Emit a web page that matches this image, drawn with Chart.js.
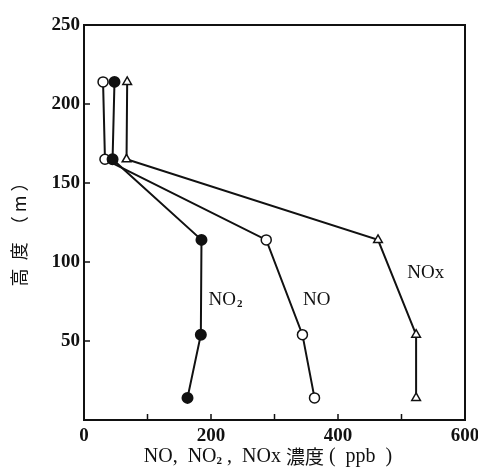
<!DOCTYPE html>
<html>
<head>
<meta charset="utf-8">
<script src="https://cdn.jsdelivr.net/npm/chart.js@4.4.1/dist/chart.umd.min.js"></script>
<style>
  html, body { margin: 0; padding: 0; background: #fff; }
  #wrap { width: 478px; height: 468px; }
</style>
</head>
<body>
<div id="wrap"><canvas id="grafico" width="478" height="468"></canvas></div>
<script>
// alturas (m) e concentrações (ppb)
const alturas = [214, 165, 114, 54, 14];
const no2 = [48, 45, 185, 184, 163];
const no = [30, 33, 287, 344, 363];
const nox = [68, 67, 463, 523, 523];

const xTicks = [0, 100, 200, 300, 400, 500, 600];
const yTicks = [0, 50, 100, 150, 200, 250];

const serie = vals => vals.map((v, i) => ({ x: v, y: alturas[i] }));

// rótulos das curvas
const rotulos = [
    { texto: "NO", sub: "2", x: 196, y: 76 },
    { texto: "NO", sub: "", x: 345, y: 76 },
    { texto: "NOx", sub: "", x: 509, y: 93 }
];

const fonteSerif = "'Liberation Serif', 'DejaVu Serif', serif";
const fonteCJK = "'Noto Sans CJK JP', 'Noto Sans', sans-serif";

// moldura, marcas internas e textos
const moldura = {
    id: "moldura",
    afterDraw(chart) {
        const { ctx, chartArea: a, scales } = chart;
        ctx.save();
        ctx.strokeStyle = "#111";
        ctx.lineWidth = 2;
        ctx.strokeRect(a.left, a.top, a.right - a.left, a.bottom - a.top);

        ctx.lineWidth = 1.5;
        ctx.beginPath();
        xTicks.slice(1, -1).forEach(v => {
            const px = scales.x.getPixelForValue(v);
            ctx.moveTo(px, a.bottom);
            ctx.lineTo(px, a.bottom - 6);
        });
        yTicks.slice(1, -1).forEach(v => {
            const py = scales.y.getPixelForValue(v);
            ctx.moveTo(a.left, py);
            ctx.lineTo(a.left + 6, py);
        });
        ctx.stroke();

        // rótulos das séries
        ctx.fillStyle = "#111";
        ctx.textBaseline = "middle";
        ctx.textAlign = "left";
        rotulos.forEach(r => {
            const px = scales.x.getPixelForValue(r.x);
            const py = scales.y.getPixelForValue(r.y);
            ctx.font = "19px " + fonteSerif;
            ctx.fillText(r.texto, px, py);
            if (r.sub) {
                const w = ctx.measureText(r.texto).width;
                ctx.font = "bold 11px " + fonteSerif;
                ctx.fillText(r.sub, px + w + 1, py + 4);
            }
        });

        // título do eixo x
        const partes = [
            ["NO,  NO", fonteSerif, 20, 0],
            ["2", fonteSerif, 11, 4],
            [" ,  NOx ", fonteSerif, 20, 0],
            ["濃度", fonteCJK, 19, 0],
            [" (  ppb  )", fonteSerif, 20, 0]
        ];
        let total = 0;
        partes.forEach(([t, f, s]) => {
            ctx.font = (s < 12 ? "bold " : "") + s + "px " + f;
            total += ctx.measureText(t).width;
        });
        let x = 268 - total / 2;
        const y = 457;
        partes.forEach(([t, f, s, dy]) => {
            ctx.font = (s < 12 ? "bold " : "") + s + "px " + f;
            ctx.fillText(t, x, y + dy);
            x += ctx.measureText(t).width;
        });

        // título do eixo y
        ctx.translate(19, 230);
        ctx.rotate(-Math.PI / 2);
        ctx.textAlign = "center";
        ctx.font = "18px " + fonteCJK;
        ctx.fillText("高  度  （ m ）", 0, 0);
        ctx.restore();
    }
};

new Chart(document.getElementById("grafico"), {
    type: "scatter",
    data: {
        datasets: [
            {
                label: "NO2",
                data: serie(no2),
                showLine: true,
                borderColor: "#111",
                borderWidth: 2,
                pointStyle: "circle",
                pointRadius: 5,
                pointBackgroundColor: "#111",
                pointBorderColor: "#111"
            },
            {
                label: "NO",
                data: serie(no),
                showLine: true,
                borderColor: "#111",
                borderWidth: 2,
                pointStyle: "circle",
                pointRadius: 5,
                pointBackgroundColor: "#fff",
                pointBorderColor: "#111",
                pointBorderWidth: 1.5
            },
            {
                label: "NOx",
                data: serie(nox),
                showLine: true,
                borderColor: "#111",
                borderWidth: 2,
                pointStyle: "triangle",
                pointRadius: 5,
                pointBackgroundColor: "#fff",
                pointBorderColor: "#111",
                pointBorderWidth: 1.5
            }
        ]
    },
    options: {
        responsive: false,
        animation: false,
        layout: { autoPadding: false, padding: { top: 25, right: 13, left: 0, bottom: 0 } },
        plugins: { legend: { display: false }, tooltip: { enabled: false } },
        scales: {
            x: {
                type: "linear",
                min: 0, max: 600,
                afterBuildTicks: s => { s.ticks = xTicks.map(v => ({ value: v })); },
                afterFit: s => { s.height = 48; s.paddingLeft = 0; s.paddingRight = 0; },
                grid: { display: false, drawTicks: false },
                border: { display: false },
                ticks: {
                    color: "#111",
                    padding: 5,
                    maxRotation: 0,
                    font: { family: fonteSerif, size: 19, weight: "bold" },
                    callback: v => v % 200 === 0 ? v : ""
                }
            },
            y: {
                type: "linear",
                min: 0, max: 250,
                afterBuildTicks: s => { s.ticks = yTicks.map(v => ({ value: v })); },
                afterFit: s => { s.width = 84; s.paddingTop = 0; s.paddingBottom = 0; },
                grid: { display: false, drawTicks: false },
                border: { display: false },
                ticks: {
                    color: "#111",
                    padding: 4,
                    font: { family: fonteSerif, size: 19, weight: "bold" },
                    callback: v => v === 0 ? "" : v
                }
            }
        }
    },
    plugins: [moldura]
});
</script>
</body>
</html>
